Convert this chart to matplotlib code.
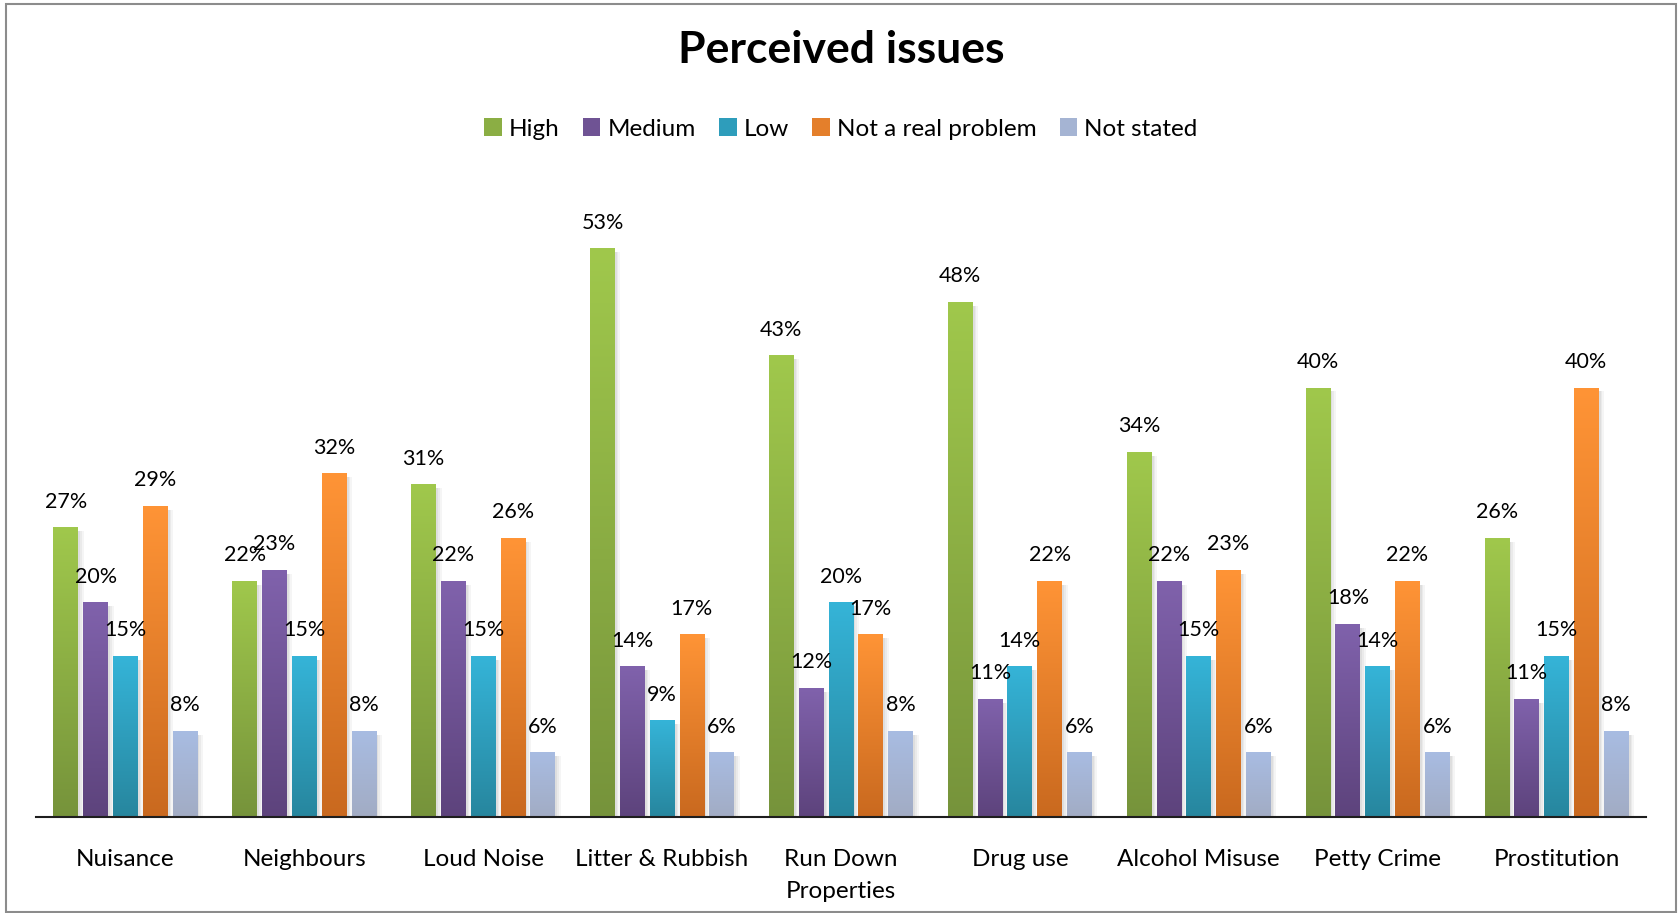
import numpy as np
import matplotlib
matplotlib.use("Agg")
import matplotlib.pyplot as plt
from matplotlib.colors import LinearSegmentedColormap
from matplotlib.patches import Rectangle, Patch

plt.rcParams['font.family'] = ['Lato', 'DejaVu Sans']

# ---- data ----
categories = ['Nuisance', 'Neighbours', 'Loud Noise', 'Litter & Rubbish',
              'Run Down\nProperties', 'Drug use', 'Alcohol Misuse',
              'Petty Crime', 'Prostitution']
series = ['High', 'Medium', 'Low', 'Not a real problem', 'Not stated']
high = [27, 22, 31, 53, 43, 48, 34, 40, 26]
medium = [20, 23, 22, 14, 12, 11, 22, 18, 11]
low = [15, 15, 15, 9, 20, 14, 15, 14, 15]
not_real = [29, 32, 26, 17, 17, 22, 23, 22, 40]
not_stated = [8, 8, 6, 6, 8, 6, 6, 6, 8]
values = [high, medium, low, not_real, not_stated]

# gradient colours per series: (top, bottom)
gradients = [('#a0c84c', '#76933b'),
             ('#8062ac', '#5d437c'),
             ('#35b4d8', '#27869e'),
             ('#ff9436', '#c9691f'),
             ('#a8bce2', '#a2acc4')]

# ---- figure layout (pixel based) ----
W, H = 1678, 913
fig = plt.figure(figsize=(W / 100, H / 100), dpi=100)


def fx(px):
    return px / W


def fy(py):
    return 1 - py / H


base_y, top_y = 816.7, 172.9
left_x, right_x = 36, 1646
ax = fig.add_axes([fx(left_x), fy(base_y), fx(right_x) - fx(left_x), fy(top_y) - fy(base_y)])
ymax = 60
px_x = len(categories) / (right_x - left_x)
px_y = ymax / (base_y - top_y)

pitch = 0.1666
width = 0.1386
x = np.arange(len(categories))
grad = np.linspace(0, 1, 256).reshape(-1, 1)

for j, (name, vals, (ctop, cbot)) in enumerate(zip(series, values, gradients)):
    xs = x + (j - 2) * pitch
    bars = ax.bar(xs, vals, width=width, color='none', linewidth=0, zorder=3)
    cmap = LinearSegmentedColormap.from_list(name, [cbot, ctop])
    for b, v in zip(bars, vals):
        x0, w, h = b.get_x(), b.get_width(), b.get_height()
        # soft drop shadow on the right side of each bar
        for dx, a in [(5.5, 0.07), (3.5, 0.09), (2.0, 0.11)]:
            ax.add_patch(Rectangle((x0 + w, 0), dx * px_x, max(h - 4 * px_y, 0),
                                   facecolor='#7f7f7f', alpha=a, lw=0, zorder=2))
        im = ax.imshow(grad, extent=(x0, x0 + w, 0, h), origin='lower', cmap=cmap,
                       aspect='auto', zorder=3, interpolation='bilinear')
        im.set_clip_path(b)
        ax.annotate(f'{v}%', xy=(x0 + w / 2, h), xytext=(0, 14), textcoords='offset points',
                    ha='center', va='baseline', fontsize=15.5, color='#000000', zorder=5)

ax.set_xlim(-0.5, len(categories) - 0.5)
ax.set_ylim(0, ymax)
for s in ['left', 'top', 'right']:
    ax.spines[s].set_visible(False)
ax.spines['bottom'].set_linewidth(1.5)
ax.spines['bottom'].set_color('#1e1e1e')
ax.spines['bottom'].set_zorder(6)
ax.set_yticks([])
ax.set_xticks(x)
ax.set_xticklabels(categories, fontsize=17.5)
for lab in ax.get_xticklabels():
    lab.set_linespacing(1.65)
ax.tick_params(axis='x', length=0, pad=23)
ax.patch.set_alpha(0)

# ---- title ----
fig.text(fx(841.5), fy(62.7), 'Perceived issues', ha='center', va='baseline',
         fontsize=32, fontweight='bold')

# ---- legend ----
mids = []
for ctop, cbot in gradients:
    c1 = np.array(matplotlib.colors.to_rgb(ctop))
    c2 = np.array(matplotlib.colors.to_rgb(cbot))
    mids.append((c1 + c2) / 2)
handles = [Patch(facecolor=m, edgecolor='none') for m in mids]
fig.legend(handles, series, loc='center', bbox_to_anchor=(fx(841), fy(129)), ncol=5,
           frameon=False, fontsize=17.5, handlelength=0.72, handleheight=0.72,
           handletextpad=0.3, columnspacing=0.95, borderaxespad=0, borderpad=0)

# ---- outer border ----
fig.add_artist(Rectangle((fx(6), fy(912)), fx(1676) - fx(6), fy(4) - fy(912),
                         transform=fig.transFigure, fill=False,
                         edgecolor='#8c8c8c', lw=1.5))

fig.savefig('out.png', dpi=100, facecolor='white')
